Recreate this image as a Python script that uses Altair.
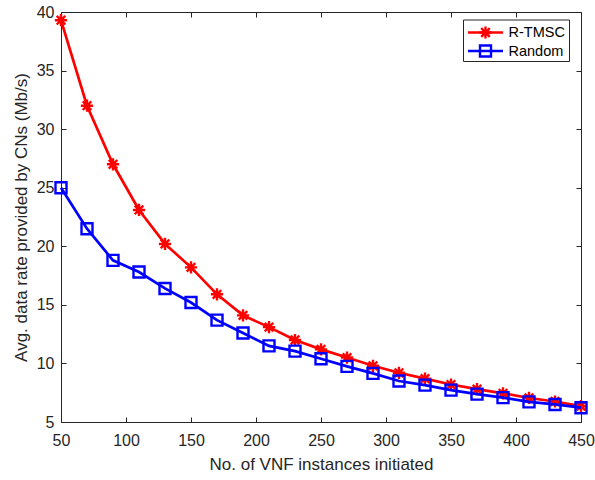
import altair as alt
import pandas as pd

# ---- data ----
vnf_instances = [50, 70, 90, 110, 130, 150, 170, 190, 210, 230, 250,
                 270, 290, 310, 330, 350, 370, 390, 410, 430, 450]
rtmsc_rate = [39.3, 32.0, 27.0, 23.1, 20.2, 18.2, 15.9, 14.1, 13.1, 12.0, 11.2,
              10.5, 9.8, 9.2, 8.7, 8.2, 7.8, 7.45, 7.05, 6.75, 6.35]
random_rate = [25.0, 21.5, 18.8, 17.8, 16.4, 15.2, 13.7, 12.6, 11.5, 11.05, 10.4,
               9.75, 9.15, 8.5, 8.15, 7.72, 7.38, 7.08, 6.72, 6.5, 6.22]
series_names = ["R-TMSC", "Random"]
series_colors = ["#FF0000", "#0000FF"]
x_ticks = [50, 100, 150, 200, 250, 300, 350, 400, 450]
y_ticks = [5, 10, 15, 20, 25, 30, 35, 40]

ASTERISK = "M-1,0L1,0M0,-1L0,1M-0.7,-0.7L0.7,0.7M-0.7,0.7L0.7,-0.7"
SQUARE = "M-1,-1L1,-1L1,1L-1,1Z"
series_shapes = [ASTERISK, SQUARE]
series_sizes = [150, 121]

df = pd.DataFrame({
    "x": vnf_instances * 2,
    "y": rtmsc_rate + random_rate,
    "series": [series_names[0]] * len(vnf_instances) + [series_names[1]] * len(vnf_instances),
})

AX = "#262626"
FONT = "Liberation Sans"

xscale = alt.Scale(domain=[50, 450], nice=False, zero=False)
yscale = alt.Scale(domain=[5, 40], nice=False, zero=False)
cscale = alt.Scale(domain=series_names, range=series_colors)
sscale = alt.Scale(domain=series_names, range=series_shapes)
zscale = alt.Scale(domain=series_names, range=series_sizes)

x_bottom = alt.Axis(values=x_ticks, orient="bottom", domain=False, grid=False,
                    offset=-5, tickSize=5, tickColor=AX, labelPadding=10,
                    labelFlush=False, labelOverlap=False,
                    labelFont=FONT, labelFontSize=16, labelColor=AX,
                    title="No. of VNF instances initiated", titleFont=FONT,
                    titleFontSize=17, titleFontWeight="normal", titleColor=AX,
                    titlePadding=8)
y_left = alt.Axis(values=y_ticks, orient="left", domain=False, grid=False,
                  offset=-5, tickSize=5, tickColor=AX, labelPadding=7,
                  labelFlush=False, labelOverlap=False,
                  labelFont=FONT, labelFontSize=16, labelColor=AX,
                  title="Avg. data rate provided by CNs (Mb/s)", titleFont=FONT,
                  titleFontSize=17, titleFontWeight="normal", titleColor=AX,
                  titlePadding=6)
x_top = alt.Axis(values=x_ticks, orient="top", domain=False, grid=False,
                 offset=-5, tickSize=5, tickColor=AX, labels=False, title=None)
y_right = alt.Axis(values=y_ticks, orient="right", domain=False, grid=False,
                   offset=-5, tickSize=5, tickColor=AX, labels=False, title=None)

base = alt.Chart(df)

layers = []
for i, name in enumerate(series_names):
    sub = base.transform_filter(alt.datum.series == name)
    if i == 0:
        xa, ya = x_bottom, y_left
        xb, yb = x_top, y_right
    else:
        xa = ya = xb = yb = None
    line = sub.mark_line(strokeWidth=2.7).encode(
        x=alt.X("x:Q", scale=xscale, axis=xa),
        y=alt.Y("y:Q", scale=yscale, axis=ya),
        color=alt.Color("series:N", scale=cscale, legend=None),
    )
    pts = sub.mark_point(filled=False, strokeWidth=2.4, opacity=1).encode(
        x=alt.X("x:Q", scale=xscale, axis=xb),
        y=alt.Y("y:Q", scale=yscale, axis=yb),
        color=alt.Color("series:N", scale=cscale, legend=None),
        shape=alt.Shape("series:N", scale=sscale, legend=None),
        size=alt.Size("series:N", scale=zscale, legend=None),
    )
    layers += [line, pts]

# ---- manual legend (MATLAB style, inside top-right) ----
box = alt.Chart(pd.DataFrame({"k": [0]})).mark_rect(
    fill="white", stroke=AX, strokeWidth=1
).encode(x=alt.value(402.5), x2=alt.value(508.5), y=alt.value(8), y2=alt.value(49.5))
layers.append(box)
row_y = [20.5, 39]
for i, name in enumerate(series_names):
    ldf = pd.DataFrame({"series": [name]})
    lc = alt.Chart(ldf)
    layers.append(lc.mark_rule(color=series_colors[i], strokeWidth=2.7).encode(
        x=alt.value(407), x2=alt.value(442), y=alt.value(row_y[i])))
    layers.append(lc.mark_point(filled=False, strokeWidth=2.4, size=series_sizes[i], opacity=1,
                                color=series_colors[i], shape=series_shapes[i]).encode(
        x=alt.value(424.5), y=alt.value(row_y[i])))
    layers.append(lc.mark_text(align="left", baseline="middle", font=FONT,
                               fontSize=14.5, color="black").encode(
        x=alt.value(447.5), y=alt.value(row_y[i] + 0.5), text="series:N"))

chart = alt.layer(*layers).resolve_axis(x="independent", y="independent").properties(
    width=520, height=410,
    autosize=alt.AutoSizeParams(type="none"),
    padding={"left": 61, "top": 12, "right": 14, "bottom": 58},
    background="white",
).configure_view(stroke=AX, strokeWidth=1)

chart.save("out.html", embed_options={"renderer": "svg", "actions": False})
